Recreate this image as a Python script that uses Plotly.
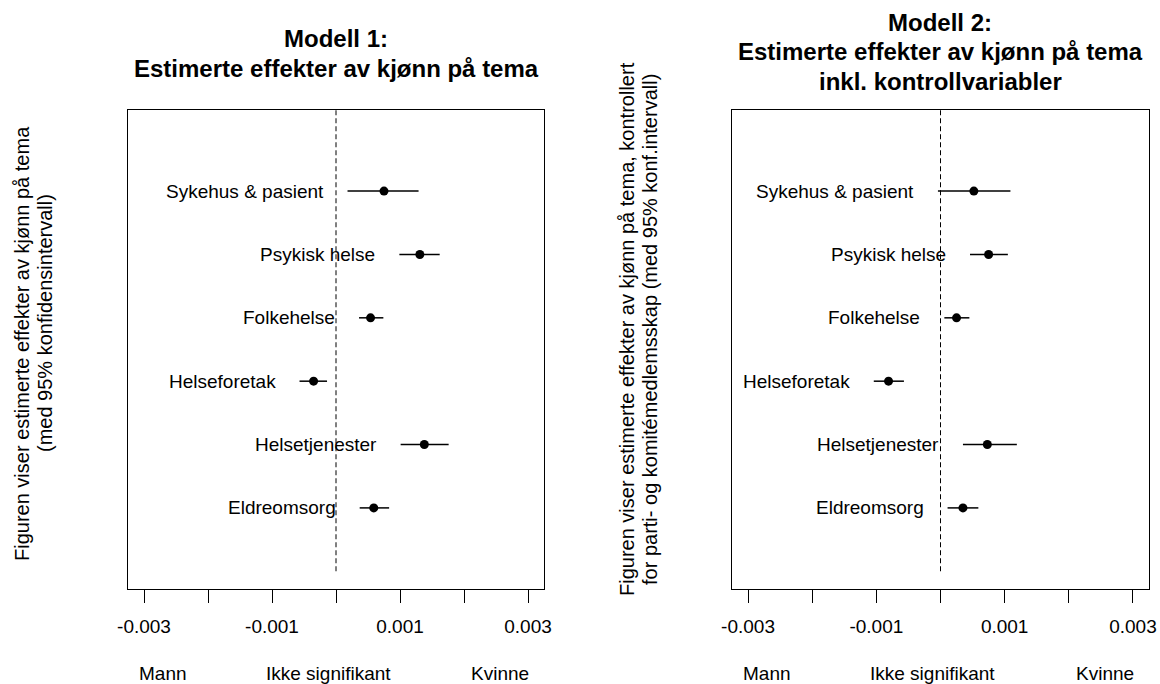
"""Two-panel coefficient plot: estimated gender effects by topic (Modell 1 / Modell 2)."""

import plotly.graph_objects as go

# Data
topics = ["Sykehus & pasient", "Psykisk helse", "Folkehelse",
          "Helseforetak", "Helsetjenester", "Eldreomsorg"]
positions = [6, 5, 4, 3, 2, 1]

m1_est = [0.00075, 0.00131, 0.00054, -0.00035, 0.00138, 0.00059]
m1_low = [0.00018, 0.00099, 0.00036, -0.00057, 0.00101, 0.00037]
m1_high = [0.00129, 0.00162, 0.00074, -0.00014, 0.00176, 0.00083]

m2_est = [0.00052, 0.00075, 0.00025, -0.00081, 0.00073, 0.00035]
m2_low = [-0.00004, 0.00046, 0.00006, -0.00104, 0.00035, 0.00011]
m2_high = [0.00109, 0.00105, 0.00045, -0.00057, 0.00119, 0.00059]

tick_vals = [-0.003, -0.002, -0.001, 0.0, 0.001, 0.002, 0.003]
tick_text = ["-0.003", "", "-0.001", "", "0.001", "", "0.003"]

side_labels = ["Mann", "Ikke signifikant", "Kvinne"]
side_label_x = [-0.0027, -0.00012, 0.00257]

titles = [
    ["Modell 1:", "Estimerte effekter av kjønn på tema"],
    ["Modell 2:", "Estimerte effekter av kjønn på tema", "inkl. kontrollvariabler"],
]
ytitles = [
    ["Figuren viser estimerte effekter av kjønn på tema",
     "(med 95% konfidensintervall)"],
    ["Figuren viser estimerte effekter av kjønn på tema, kontrollert",
     "for parti- og komitémedlemsskap (med 95% konf.intervall)"],
]

FONT = "Liberation Sans, Arial, sans-serif"
W, H = 1160, 684
X_RANGE = [-0.00325, 0.00325]
Y_RANGE = [-0.28, 7.28]


def px(x):
    """Screen x (pixels) -> paper coordinate."""
    return x / W


def py(y):
    """Screen y (pixels) -> paper coordinate."""
    return 1 - y / H


fig = go.Figure()

panels = [
    dict(est=m1_est, low=m1_low, high=m1_high, dom=[px(128), px(544)], cx=336,
         title_y=[38, 69], ytitle_x=[22, 45], ytitle_y=[344, 323]),
    dict(est=m2_est, low=m2_low, high=m2_high, dom=[px(732), px(1149)], cx=940,
         title_y=[22, 52, 82], ytitle_x=[627, 650], ytitle_y=[329, 330]),
]

for i, p in enumerate(panels):
    xa = "x" if i == 0 else "x2"
    ya = "y" if i == 0 else "y2"

    # zero reference line
    fig.add_shape(type="line", x0=0, x1=0, y0=0, y1=Y_RANGE[1], xref=xa, yref=ya,
                  line=dict(color="black", width=1, dash="5px,3px"))

    fig.add_trace(go.Scatter(
        x=p["est"], y=positions, xaxis=xa, yaxis=ya, mode="markers",
        marker=dict(color="black", size=9),
        error_x=dict(type="data", symmetric=False,
                     array=[h - e for h, e in zip(p["high"], p["est"])],
                     arrayminus=[e - l for e, l in zip(p["est"], p["low"])],
                     width=0, thickness=1.5, color="black"),
        hoverinfo="skip", showlegend=False,
    ))

    # topic labels, right-aligned left of the interval
    for name, lo, yy in zip(topics, p["low"], positions):
        fig.add_annotation(x=lo, y=yy, xref=xa, yref=ya, text=name, showarrow=False,
                           xanchor="right", xshift=-22,
                           font=dict(size=19, color="black", family=FONT))

    for lab, lx in zip(side_labels, side_label_x):
        fig.add_annotation(x=lx, y=py(673), xref=xa, yref="paper", text=lab,
                           showarrow=False, xanchor="center", yanchor="middle",
                           font=dict(size=19, color="black", family=FONT))

    for line, ty in zip(titles[i], p["title_y"]):
        fig.add_annotation(x=px(p["cx"]), y=py(ty), xref="paper", yref="paper",
                           text=f"<b>{line}</b>", showarrow=False,
                           xanchor="center", yanchor="middle",
                           font=dict(size=24, color="black", family=FONT))

    for line, tx, ty in zip(ytitles[i], p["ytitle_x"], p["ytitle_y"]):
        fig.add_annotation(x=px(tx), y=py(ty), xref="paper", yref="paper",
                           text=line, textangle=-90, showarrow=False,
                           xanchor="center", yanchor="middle",
                           font=dict(size=20, color="black", family=FONT))

axis_common = dict(showgrid=False, zeroline=False, showline=True, mirror=True,
                   linecolor="black", linewidth=1, automargin=False)
xtick_style = dict(tickvals=tick_vals, ticktext=tick_text, ticks="outside",
                   ticklen=13, tickwidth=1, tickcolor="black", ticklabelstandoff=7,
                   tickfont=dict(size=19, color="black"))

fig.update_layout(
    width=W, height=H,
    margin=dict(l=0, r=0, t=0, b=0, autoexpand=False),
    paper_bgcolor="white", plot_bgcolor="white",
    font=dict(family=FONT, size=19, color="black"),
    xaxis=dict(domain=panels[0]["dom"], range=X_RANGE, anchor="y",
               **xtick_style, **axis_common),
    yaxis=dict(domain=[py(589), py(110)], range=Y_RANGE, anchor="x",
               showticklabels=False, ticks="", **axis_common),
    xaxis2=dict(domain=panels[1]["dom"], range=X_RANGE, anchor="y2",
                **xtick_style, **axis_common),
    yaxis2=dict(domain=[py(589), py(110)], range=Y_RANGE, anchor="x2",
                showticklabels=False, ticks="", **axis_common),
)

# drop the default page margin so the figure fills the window exactly
fig.write_html("out.html", config={"displayModeBar": False},
               post_script="document.body.style.margin = '0';")
